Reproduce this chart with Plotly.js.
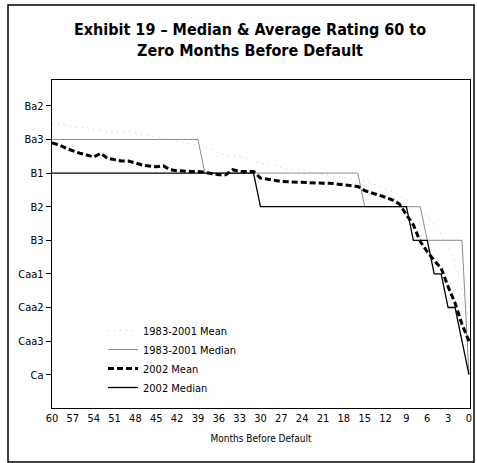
<!DOCTYPE html>
<html>
<head>
<meta charset="utf-8">
<script src="https://cdn.plot.ly/plotly-3.0.1.min.js"></script>
<style>
html,body{margin:0;padding:0;background:#fff;}
#chart{width:477px;height:463px;}
</style>
</head>
<body>
<div id="chart"></div>
<script>
// Months before default (60 ... 0)
var months = [];
for (var m = 60; m >= 0; m--) months.push(m);

// Rating scale: numeric code -> label
var ratingCodes = [12, 13, 14, 15, 16, 17, 18, 19, 20];
var ratingLabels = ["Ba2", "Ba3", "B1", "B2", "B3", "Caa1", "Caa2", "Caa3", "Ca"];

var xTickVals = [60, 57, 54, 51, 48, 45, 42, 39, 36, 33, 30, 27, 24, 21, 18, 15, 12, 9, 6, 3, 0];

// 1983-2001 Mean (months 60..0)
var mean8301 = [
  12.52, 12.55, 12.57, 12.63, 12.64, 12.65, 12.70, 12.72, 12.76, 12.80,
  12.78, 12.77, 12.80, 12.86, 12.88, 12.92, 12.96, 13.00, 13.05, 13.10,
  13.13, 13.16, 13.21, 13.30, 13.40, 13.46, 13.48, 13.51, 13.56, 13.62,
  13.70, 13.76, 13.76, 13.85, 13.87, 13.88, 13.90, 13.96, 14.00, 14.05,
  14.08, 14.10, 14.13, 14.16, 14.20, 14.24, 14.30, 14.38, 14.46, 14.55,
  14.65, 14.78, 14.92, 15.08, 15.28, 15.52, 15.82, 16.20, 16.70, 17.40, 18.30
];

// 1983-2001 Median
var median8301 = [
  13, 13, 13, 13, 13, 13, 13, 13, 13, 13,
  13, 13, 13, 13, 13, 13, 13, 13, 13, 13,
  13, 13, 14, 14, 14, 14, 14, 14, 14, 14,
  14, 14, 14, 14, 14, 14, 14, 14, 14, 14,
  14, 14, 14, 14, 14, 15, 15, 15, 15, 15,
  15, 15, 15, 15, 16, 16, 16, 16, 16, 16, 20
];

// 2002 Mean
var mean2002 = [
  13.10, 13.16, 13.26, 13.34, 13.41, 13.46, 13.52, 13.41, 13.56, 13.60,
  13.64, 13.64, 13.70, 13.76, 13.79, 13.81, 13.78, 13.90, 13.93, 13.95,
  13.95, 13.95, 13.98, 14.00, 14.05, 14.05, 13.90, 13.95, 13.95, 13.95,
  14.15, 14.18, 14.23, 14.25, 14.26, 14.27, 14.28, 14.30, 14.30, 14.30,
  14.30, 14.33, 14.35, 14.38, 14.40, 14.52, 14.58, 14.65, 14.72, 14.80,
  14.92, 15.24, 15.54, 16.04, 16.34, 16.60, 16.83, 17.38, 17.87, 18.50, 19.00
];

// 2002 Median
var median2002 = [
  14, 14, 14, 14, 14, 14, 14, 14, 14, 14,
  14, 14, 14, 14, 14, 14, 14, 14, 14, 14,
  14, 14, 14, 14, 14, 14, 14, 14, 14, 14,
  15, 15, 15, 15, 15, 15, 15, 15, 15, 15,
  15, 15, 15, 15, 15, 15, 15, 15, 15, 15,
  15, 15, 16, 16, 16, 17, 17, 18, 18, 19, 20
];

var FONT = '"DejaVu Sans Condensed", "Liberation Sans Narrow", sans-serif';

var traces = [
  {x: months, y: mean8301, name: "1983-2001 Mean", mode: "lines",
   line: {color: "#c8c8c8", width: 1, dash: "1px,5px"}},
  {x: months, y: median8301, name: "1983-2001 Median", mode: "lines",
   line: {color: "#8c8c8c", width: 1}},
  {x: months, y: mean2002, name: "2002 Mean", mode: "lines",
   line: {color: "#000", width: 3, dash: "6px,3px"}},
  {x: months, y: median2002, name: "2002 Median", mode: "lines",
   line: {color: "#000", width: 1.3}}
];

var layout = {
  width: 477, height: 463,
  margin: {l: 52, r: 7, t: 80, b: 55, pad: 0},
  paper_bgcolor: "#fff", plot_bgcolor: "#fff",
  font: {family: FONT, size: 11, color: "#000"},
  title: {
    text: "<b>Exhibit 19 – Median & Average Rating 60 to<br>Zero Months Before Default</b>",
    font: {family: FONT, size: 16, color: "#000"},
    x: 250 / 477, xanchor: "center", xref: "container",
    y: 1 - 35 / 463, yanchor: "middle", yref: "container"
  },
  xaxis: {
    range: [60, -0.15], tickmode: "array", tickvals: xTickVals,
    ticktext: xTickVals.map(String), ticks: "", showgrid: false, zeroline: false,
    showline: true, linecolor: "#000", linewidth: 1, mirror: true,
    tickfont: {family: FONT, size: 11},
    title: {text: "Months Before Default", font: {family: FONT, size: 10}, standoff: 10}
  },
  yaxis: {
    range: [20.99, 11.23], tickmode: "array", tickvals: ratingCodes, ticktext: ratingLabels,
    ticks: "outside", ticklen: 5, tickcolor: "#000", showgrid: false, zeroline: false,
    showline: true, linecolor: "#000", linewidth: 1.2, mirror: true,
    tickfont: {family: FONT, size: 11}
  },
  legend: {
    x: 51 / 418, y: 1 - 236 / 328, xanchor: "left", yanchor: "top",
    bgcolor: "rgba(0,0,0,0)", font: {family: FONT, size: 11},
    itemwidth: 30, tracegroupgap: 0
  },
  shapes: [
    {type: "rect", xref: "paper", yref: "paper",
     x0: -44 / 418, x1: 1 + 4 / 418, y0: -54 / 328, y1: 1 + 75 / 328,
     line: {color: "#000", width: 1.5}}
  ],
  showlegend: true
};

Plotly.newPlot("chart", traces, layout, {staticPlot: true, displayModeBar: false});
</script>
</body>
</html>
